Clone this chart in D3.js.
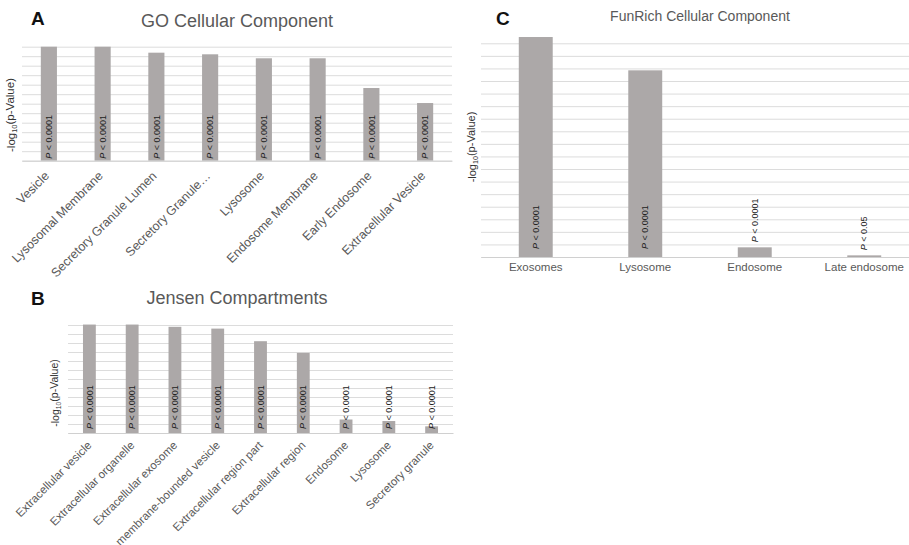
<!DOCTYPE html>
<html>
<head>
<meta charset="utf-8">
<script src="https://cdn.jsdelivr.net/npm/d3@7/dist/d3.min.js"></script>
<style>
  body { margin: 0; background: #fff; }
  text { font-family: "Liberation Sans", Arial, Helvetica, sans-serif; }
</style>
</head>
<body>
<div id="chart"></div>
<script>
// data
var goCats = ["Vesicle", "Lysosomal Membrane", "Secretory Granule Lumen", "Secretory Granule\u2026",
  "Lysosome", "Endosome Membrane", "Early Endosome", "Extracellular Vesicle"];
var goVals = [12.0, 12.0, 11.37, 11.2, 10.78, 10.78, 7.65, 6.07];
var goP = ["0.0001", "0.0001", "0.0001", "0.0001", "0.0001", "0.0001", "0.0001", "0.0001"];

var jensenCats = ["Extracellular vesicle", "Extracellular organelle", "Extracellular exosome",
  "membrane-bounded vesicle", "Extracellular region part", "Extracellular region",
  "Endosome", "Lysosome", "Secretory granule"];
var jensenVals = [12.05, 12.05, 11.8, 11.6, 10.2, 8.9, 1.5, 1.33, 0.74];
var jensenP = ["0.0001", "0.0001", "0.0001", "0.0001", "0.0001", "0.0001", "0.0001", "0.0001", "0.0001"];

var funCats = ["Exosomes", "Lysosome", "Endosome", "Late endosome"];
var funVals = [17.5, 14.85, 0.77, 0.13];
var funP = ["0.0001", "0.0001", "0.0001", "0.05"];

var W = 909, H = 545;
var barColor = "#aca8a8", gridColor = "#dcdcdc", textGray = "#595959";

var svg = d3.select("#chart").append("svg")
  .attr("width", W)
  .attr("height", H);

function panel(o) {
  var x = d3.scaleBand()
    .domain(o.cats)
    .range([o.left, o.right])
    .paddingInner(o.pad)
    .paddingOuter(o.pad / 2);
  var y = d3.scaleLinear()
    .domain([0, o.max])
    .range([o.bottom, o.top]);

  var g = svg.append("g");

  // gridlines
  g.append("g")
    .attr("transform", "translate(" + o.left + ",0)")
    .call(d3.axisLeft(y).ticks(o.max).tickSize(-(o.right - o.left)).tickFormat(""))
    .call(function(s) {
      s.select(".domain").remove();
      s.selectAll(".tick line").attr("stroke", gridColor).attr("stroke-width", 1);
    });

  // bars
  g.selectAll("rect.bar").data(o.vals)
    .enter().append("rect")
    .attr("class", "bar")
    .attr("x", function(d, i) { return x(o.cats[i]); })
    .attr("width", x.bandwidth())
    .attr("y", function(d) { return y(d); })
    .attr("height", function(d) { return y(0) - y(d); })
    .attr("fill", barColor);

  // category axis
  var ax = g.append("g")
    .attr("transform", "translate(0," + o.bottom + ")")
    .call(d3.axisBottom(x).tickSize(0).tickPadding(0));
  ax.select(".domain").attr("stroke", "#d0d0d0");
  ax.selectAll("text")
    .attr("fill", textGray)
    .style("font-size", o.labelSize + "px");
  if (o.rotate) {
    ax.selectAll("text")
      .attr("text-anchor", "end")
      .attr("dy", null)
      .attr("y", 0)
      .attr("transform", "translate(" + o.rotate[0] + "," + o.rotate[1] + ") rotate(-45)");
  } else {
    ax.selectAll("text").attr("y", 14).attr("dy", null);
  }

  // p-value labels: inside base, or just above the bar when it is too short
  var pl = g.selectAll("text.pl").data(o.vals)
    .enter().append("text")
    .attr("class", "pl")
    .attr("transform", function(d, i) {
      var yb = o.bottom - o.pBase;
      if (o.pLift && y(0) - y(d) < 30) yb = y(d) - o.pLift;
      return "translate(" + (x(o.cats[i]) + x.bandwidth() / 2) + "," + yb + ") rotate(-90)";
    })
    .attr("dy", "0.35em")
    .attr("fill", "#222")
    .style("font-size", "9px");
  pl.append("tspan").style("font-style", "italic").text("P");
  pl.append("tspan").text(function(d, i) { return " < " + o.p[i]; });

  // y title
  var yt = g.append("text")
    .attr("transform", "translate(" + o.ytX + "," + o.ytY + ") rotate(-90)")
    .attr("text-anchor", "middle")
    .attr("fill", "#333")
    .style("font-size", o.ytSize + "px");
  yt.append("tspan").text("-log");
  yt.append("tspan").attr("dy", "0.3em").style("font-size", (o.ytSize * 0.65) + "px").text("10");
  yt.append("tspan").attr("dy", "-0.3em").text("(p-Value)");

  // chart title + panel letter
  g.append("text")
    .attr("x", o.titleX).attr("y", o.titleY)
    .attr("text-anchor", "middle")
    .attr("fill", textGray)
    .style("font-size", o.titleSize + "px")
    .text(o.title);
  g.append("text")
    .attr("x", o.letterX).attr("y", o.letterY)
    .attr("fill", "#111")
    .style("font-size", "19px")
    .style("font-weight", "900")
    .text(o.letter);
}

panel({
  cats: goCats, vals: goVals, p: goP, max: 12,
  left: 22, right: 452, top: 46.7, bottom: 160.7, pad: 0.7,
  rotate: [1, 16], labelSize: 12.5, pBase: 2,
  ytX: 15, ytY: 115, ytSize: 11.5,
  title: "GO Cellular Component", titleX: 237, titleY: 27, titleSize: 18,
  letter: "A", letterX: 31, letterY: 25
});

panel({
  cats: jensenCats, vals: jensenVals, p: jensenP, max: 12,
  left: 68, right: 453, top: 325, bottom: 433, pad: 0.7,
  rotate: [3, 13], labelSize: 11.5, pBase: 4,
  ytX: 59, ytY: 393, ytSize: 10.5,
  title: "Jensen Compartments", titleX: 237, titleY: 304, titleSize: 18,
  letter: "B", letterX: 31, letterY: 305
});

panel({
  cats: funCats, vals: funVals, p: funP, max: 17,
  left: 481, right: 919, top: 43.3, bottom: 257, pad: 0.69,
  rotate: null, labelSize: 11.5, pBase: 8, pLift: 5,
  ytX: 476, ytY: 147, ytSize: 11,
  title: "FunRich Cellular Component", titleX: 700, titleY: 21, titleSize: 14,
  letter: "C", letterX: 496, letterY: 25
});
</script>
</body>
</html>
